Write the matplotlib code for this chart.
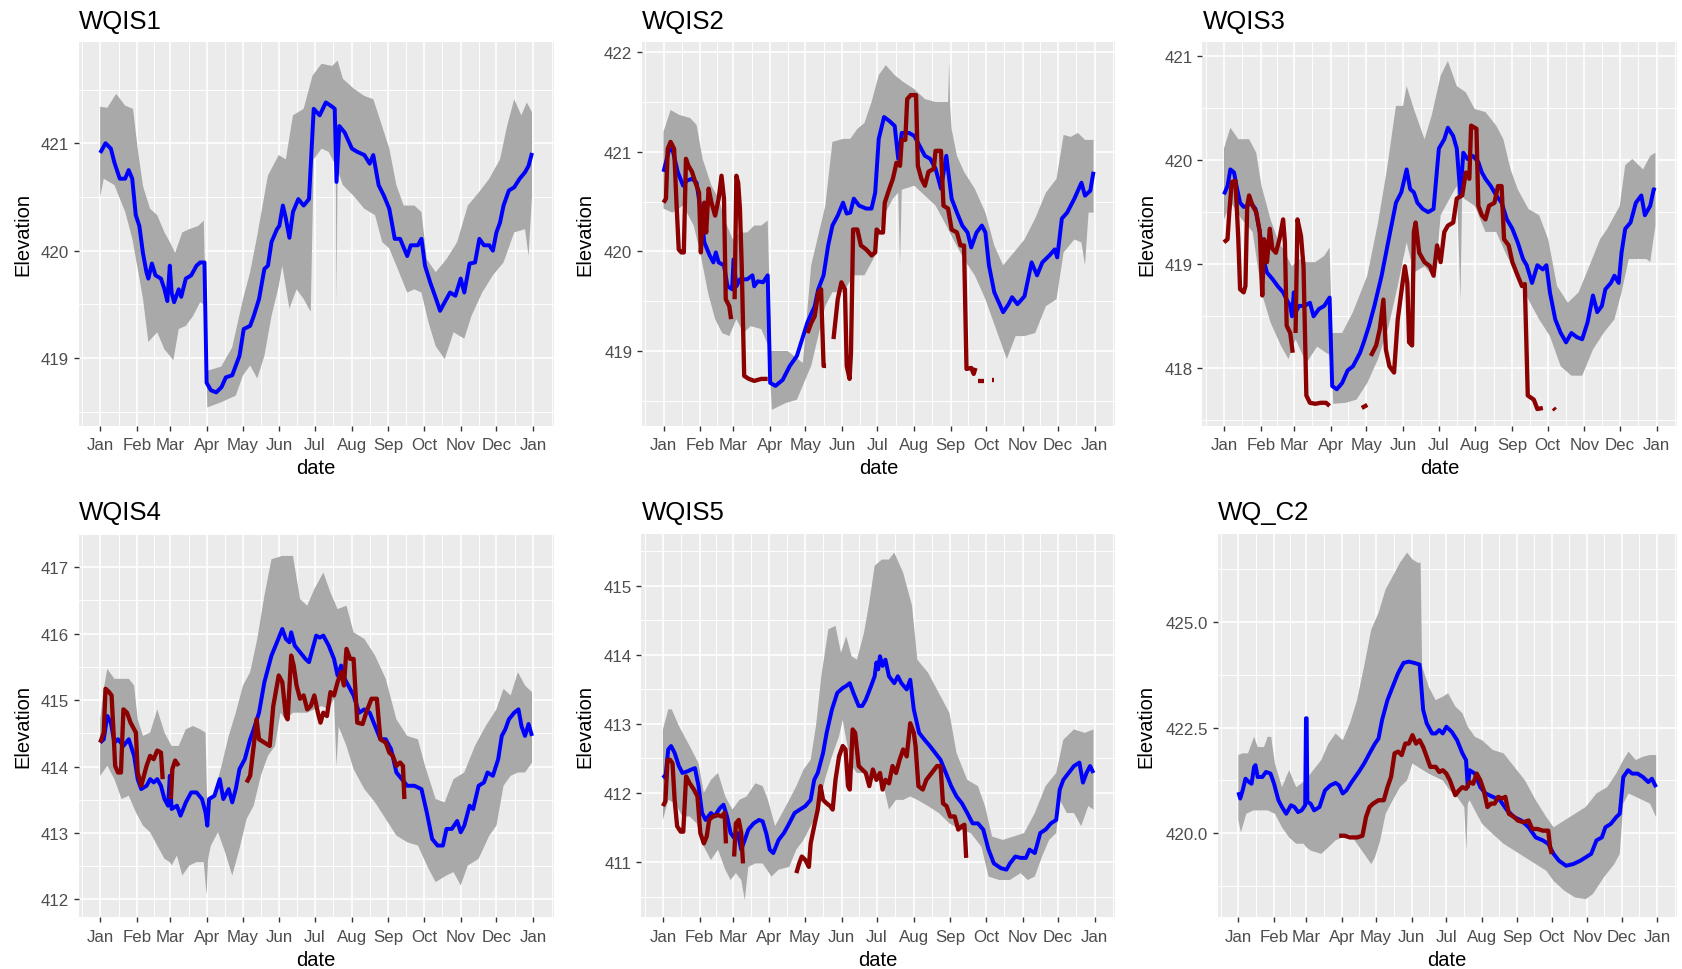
import numpy as np
import matplotlib
matplotlib.use("Agg")
import matplotlib.pyplot as plt

plt.rcParams['font.family'] = ['Liberation Sans', 'DejaVu Sans']

# ---------------- axis data ----------------
MONTH_STARTS = [0, 31, 59, 90, 120, 151, 181, 212, 243, 273, 304, 334, 365]
MONTH_LABELS = ["Jan", "Feb", "Mar", "Apr", "May", "Jun", "Jul", "Aug",
                "Sep", "Oct", "Nov", "Dec", "Jan"]
TITLES = ["WQIS1", "WQIS2", "WQIS3", "WQIS4", "WQIS5", "WQ_C2"]

# ---------------- WQIS1 ----------------
wqis1_mid = [(0,420.91),(4.5,421.0),(9,420.95),(12,420.82),(16.5,420.67),(21,420.67),(24,420.75),(27,420.67),
 (30,420.33),(33,420.23),(36,419.98),(39,419.8),(40.6,419.74),(43.6,419.88),(46.6,419.77),(51.2,419.74),
 (54.2,419.64),(56.6,419.53),(58.7,419.86),(60.2,419.61),(62.3,419.52),(66.2,419.64),(68.3,419.57),
 (72.2,419.74),(76.7,419.77),(81.2,419.86),(84.3,419.89),(87.9,419.89),(89.7,418.77),(93.3,418.70),
 (97.8,418.68),(102.3,418.73),(105.9,418.82),(111.3,418.84),(117.4,419.02),(121,419.27),(126.4,419.30),
 (129.4,419.39),(133.9,419.55),(138.4,419.83),(141.4,419.86),(144.4,420.08),(149,420.20),(151,420.23),
 (154,420.42),(156.5,420.30),(159.5,420.12),(162.5,420.36),(167,420.48),(171.5,420.42),(176,420.48),
 (180,421.32),(185,421.26),(190.2,421.38),(195.6,421.34),(197.7,421.32),(199.2,420.64),(201.6,421.16),
 (206.1,421.10),(212.2,420.95),(216.7,420.92),(222.7,420.89),(227.2,420.81),(230.2,420.89),(234.7,420.61),
 (239.2,420.51),(243.7,420.39),(248.3,420.11),(252.8,420.11),(258.8,419.95),(261.8,420.05),(267.8,420.05),
 (270.8,420.11),(273.8,419.86),(278.3,419.70),(282.2,419.58),(286.5,419.44),(290.4,419.52),(294.9,419.61),
 (299.4,419.58),(303.9,419.74),(306.9,419.61),(311.4,419.88),(316,419.89),(319.6,420.11),(323.5,420.05),
 (328,420.05),(331,420.0),(334,420.17),(337,420.26),(340,420.42),(344.5,420.56),(349,420.59),(353.6,420.67),
 (358.1,420.73),(361.1,420.79),(364,420.91)]
wqis1_hi = [(0,421.34),(6,421.33),(13.5,421.46),(21.1,421.35),(27.7,421.32),(31.6,420.95),(36.1,420.6),
 (42.1,420.39),(48.1,420.33),(54.2,420.17),(58.7,420.08),(63.2,419.98),(69.2,420.17),(75.2,420.20),
 (82.7,420.23),(87.3,420.28),(88.8,419.6),(89.7,418.88),(102,418.92),(111.3,419.1),(120.4,419.55),
 (126.4,419.80),(132.4,420.14),(141.4,420.70),(150.5,420.89),(156.5,420.85),(162.5,421.26),(171.5,421.32),
 (179,421.63),(186.6,421.74),(195.6,421.72),(200.1,421.77),(204.6,421.60),(213.6,421.51),(222.7,421.44),
 (230.2,421.41),(234.7,421.26),(243.7,420.95),(249.7,420.61),(255.8,420.42),(264.8,420.42),(270.8,420.36),
 (275.3,419.92),(282.8,419.80),(291.9,419.92),(300.9,420.08),(309.9,420.42),(319,420.54),(328,420.67),
 (337,420.85),(343,421.16),(349,421.41),(355,421.26),(359.6,421.38),(364,421.29)]
wqis1_lo = [(0,420.50),(3,420.67),(12,420.61),(21.1,420.36),(27.1,420.11),(33.1,419.74),(36.1,419.55),
 (40.6,419.15),(48.1,419.24),(54.2,419.08),(61.7,418.98),(66.2,419.27),(72.2,419.30),(78.2,419.39),
 (84.3,419.52),(88.8,419.49),(90.3,418.54),(102.3,418.59),(114.3,418.65),(120.4,418.84),(126.4,418.93),
 (132.4,418.81),(138.4,419.02),(144.4,419.39),(150.5,419.67),(153.5,419.86),(159.5,419.46),(165.5,419.64),
 (171.5,419.55),(177.5,419.43),(180,420.85),(186.6,420.95),(192.6,420.92),(198.6,420.79),(199.2,419.49),
 (200.1,420.75),(204.6,420.61),(213.6,420.51),(222.7,420.39),(231.7,420.33),(237.7,420.08),(243.7,420.02),
 (249.7,419.86),(258.8,419.61),(264.8,419.64),(270.8,419.61),(276.8,419.33),(282.8,419.11),(290.4,418.99),
 (297.9,419.24),(306.9,419.18),(312.9,419.39),(322,419.61),(331,419.77),(340,419.89),(349,420.17),
 (358.1,420.20),(361.1,419.95),(364,420.51)]
wqis1_obs = []

# ---------------- WQIS2 ----------------
wqis2_mid = [(0,420.80),(4.5,421.01),(7.5,421.03),(12,420.80),(16.6,420.66),(19.6,420.71),(24.1,420.73),
 (28,420.69),(31.6,420.39),(34.6,420.09),(39.1,419.96),(42.2,419.89),(44.3,419.99),(46.7,419.89),
 (51.2,419.86),(54.2,419.65),(58.1,419.62),(59.3,419.92),(61.7,419.65),(64.7,419.72),(70.8,419.72),
 (75.3,419.76),(76.8,419.65),(79.8,419.70),(84.3,419.69),(88.2,419.76),(90.3,418.68),(94.8,418.65),
 (100.9,418.71),(106.9,418.85),(112.9,418.95),(117.4,419.12),(121.9,419.29),(128,419.45),(131,419.62),
 (135.5,419.76),(139.4,420.06),(143,420.26),(147.5,420.36),(152,420.49),(155.1,420.38),(158.1,420.39),
 (161.1,420.53),(165.6,420.46),(171.6,420.43),(176.1,420.43),(179.2,420.59),(182.2,421.13),(186.7,421.35),
 (191.2,421.31),(195.7,421.26),(198.7,420.93),(201.7,421.19),(207.8,421.19),(212.3,421.16),(216.8,421.06),
 (221.3,420.96),(225.8,420.93),(230.3,420.83),(234.9,420.63),(239.4,420.96),(243.9,420.53),(248.4,420.39),
 (252.9,420.26),(257.4,420.19),(260.5,420.04),(265,420.19),(269.5,420.26),(272.5,420.19),(275.5,419.86),
 (280,419.59),(287.5,419.39),(292.1,419.47),(295.1,419.54),(299.6,419.47),(305.6,419.55),(311.6,419.89),
 (316.2,419.76),(320.7,419.89),(326.7,419.96),(331.2,420.02),(333.3,419.94),(337.2,420.33),(341.7,420.39),
 (347.8,420.53),(353.8,420.69),(356.8,420.56),(361.3,420.61),(364,420.80)]
wqis2_hi = [(0,421.20),(6,421.42),(13.5,421.37),(22.6,421.34),(28,421.27),(33.1,420.93),(40.6,420.66),
 (46.7,420.53),(52.7,420.29),(58.7,420.12),(64.7,420.19),(70.8,420.19),(76.8,420.26),(82.8,420.26),
 (88.2,420.31),(91.2,419.0),(105,419.0),(118,418.88),(121,419.3),(125,419.86),(131,420.16),(137,420.46),
 (143,421.10),(152,421.13),(158.1,421.13),(164.1,421.23),(170.1,421.29),(176.1,421.50),(182.2,421.77),
 (188.2,421.87),(195.7,421.77),(203.2,421.70),(212.3,421.63),(221.3,421.53),(230.3,421.50),(240.9,421.50),
 (241.8,421.90),(242.7,421.45),(243.9,421.23),(248.4,420.96),(254.4,420.80),(263.5,420.63),(272.5,420.39),
 (280,420.06),(287.5,419.86),(296.6,419.99),(305.6,420.12),(314.6,420.33),(323.7,420.59),(332.7,420.73),
 (338.7,421.17),(344.8,421.15),(350.8,421.19),(356.8,421.12),(364,421.12)]
wqis2_lo = [(0,420.43),(7.5,420.39),(16.6,420.46),(25.6,420.26),(31.6,419.96),(37.6,419.59),(43.7,419.32),
 (49.7,419.18),(55.7,419.15),(61.7,419.32),(67.7,419.18),(73.8,419.25),(82.8,419.22),(88.8,419.05),
 (91.8,418.41),(103.9,418.48),(112.9,418.51),(118.9,418.68),(125,418.85),(131,419.15),(137,419.45),
 (143,419.59),(152,419.59),(161.1,419.76),(170.1,419.76),(179.2,419.96),(185.2,420.33),(194.2,420.53),
 (198.7,420.59),(200.2,419.86),(201.7,420.62),(212.3,420.66),(221.3,420.56),(230.3,420.46),(239.4,420.26),
 (245.4,420.12),(254.4,419.92),(263.5,419.76),(272.5,419.52),(281.5,419.22),(290.6,418.92),(298.1,419.15),
 (305.6,419.15),(314.6,419.18),(323.7,419.45),(332.7,419.52),(338.7,419.99),(347.8,420.12),(353.8,420.09),
 (356.8,419.86),(359.8,420.39),(364,420.39)]
wqis2_obs = [
 [(0,420.49),(2.1,420.53),(3.6,421.03),(6,421.10),(9,421.03),(11.1,420.46),(12.9,420.02),(15.1,419.99),
  (17.2,419.99),(19,420.93),(21.1,420.86),(24.1,420.80),(27.1,420.69),(30.1,420.59),(31.6,419.99),
  (33.1,420.33),(34.6,420.49),(36.1,420.19),(38.2,420.63),(40.6,420.49),(43.7,420.36),(46.7,420.53),
  (49.1,420.76),(51.2,420.53),(52.7,419.52),(55.7,419.45),(57.2,419.32)],
 [(60.2,419.52),(61.7,420.76),(63.2,420.69),(64.7,420.43),(66.2,419.86),(68.3,418.75),(72.3,418.72),
  (76.8,418.70),(82.8,418.72),(88.2,418.72)],
 [(121.9,419.18),(125,419.28),(128,419.35),(131,419.59),(133.4,419.62),(135.5,418.85),(137.6,418.85)],
 [(143.9,419.12),(147.5,419.52),(150.6,419.69),(153.6,419.62),(155.1,418.85),(157.5,418.72),(158.7,418.98),
  (160.5,420.22),(164.1,420.22),(167.1,420.06),(171.6,420.02),(176.1,419.96),(179.2,419.99),(180.4,420.22),
  (183.1,420.19),(185.8,420.19),(187.3,420.49),(191.2,420.63),(194.2,420.73),(197.2,420.89),(200.2,420.86),
  (201.7,421.12),(204.7,421.12),(206.3,421.53),(209.3,421.57),(213.8,421.57),(215.3,420.86),(218.3,420.73),
  (221.3,420.66),(224.3,420.80),(228.8,420.83),(230.3,421.01),(234.9,421.01),(237,420.46),(240.9,420.43),
  (243.9,420.22),(248.4,420.19),(251.4,420.06),(254.4,420.06),(256.5,418.82),(260.5,418.83),(262.6,418.77),
  (264.1,418.83)],
 [(266.5,418.70),(271,418.70)],
 [(278.5,418.71),(280,418.71)],
]

# ---------------- WQIS3 ----------------
wqis3_mid = [(0,419.67),(3,419.75),(5.4,419.91),(8.5,419.88),(10.6,419.75),(13.6,419.59),(16.6,419.55),
 (19.6,419.56),(22.7,419.59),(26.6,419.53),(30.2,419.31),(33.2,419.05),(36.3,418.92),(40.8,418.86),
 (45.3,418.79),(49.9,418.73),(52.9,418.66),(55.9,418.60),(57.4,418.50),(58.9,418.73),(60.4,418.54),
 (63.5,418.60),(68,418.60),(72.5,418.63),(75.6,418.50),(80.1,418.57),(84.6,418.60),(89.1,418.68),
 (91.3,417.83),(95.2,417.80),(99.7,417.86),(104.3,417.98),(108.8,418.02),(114.8,418.15),(117.9,418.25),
 (122.4,418.41),(126.9,418.60),(133,418.89),(139,419.24),(145.1,419.59),(149.6,419.69),(154.1,419.91),
 (157.1,419.72),(160.2,419.69),(163.2,419.59),(167.7,419.53),(172.3,419.50),(176.8,419.53),(181.3,420.11),
 (185.9,420.20),(188.9,420.31),(193.4,420.23),(196.4,420.11),(199.5,419.66),(201.9,420.07),(205.5,420.01),
 (210,420.04),(214.6,419.98),(217.6,419.88),(220.6,419.82),(225.1,419.75),(229.7,419.66),(234.2,419.59),
 (238.7,419.43),(243.3,419.34),(247.8,419.21),(252.3,419.05),(255.4,418.99),(259.9,418.82),(264.4,418.99),
 (269,418.95),(272,418.99),(275,418.73),(279.5,418.47),(284.1,418.34),(288.6,418.25),(293.1,418.34),
 (297.7,418.30),(302.2,418.28),(306.7,418.44),(311.3,418.70),(314.9,418.54),(318.8,418.60),(321.8,418.76),
 (326.4,418.82),(329.4,418.89),(333,418.82),(335.4,419.11),(338.5,419.34),(343,419.40),(347.5,419.59),
 (352.1,419.66),(355.1,419.47),(359.6,419.56),(362.6,419.72),(364,419.71)]
wqis3_hi = [(0,420.11),(5.4,420.31),(12.1,420.20),(21.2,420.20),(27.2,420.07),(31.7,419.75),(39.3,419.43),
 (45.3,419.24),(51.4,419.11),(57.4,418.98),(63.5,419.05),(69.5,419.02),(77.1,419.02),(84.6,419.08),
 (89.1,419.16),(91.3,418.34),(99.7,418.34),(108.8,418.54),(120.9,418.89),(130,419.40),(137.5,419.91),
 (145.1,420.52),(151.1,420.52),(154.1,420.71),(160.2,420.49),(169.2,420.20),(175.3,420.43),(182.8,420.81),
 (188.9,420.95),(196.4,420.71),(204,420.65),(211.5,420.49),(220.6,420.46),(229.7,420.33),(235.7,420.20),
 (241.8,419.91),(247.8,419.72),(256.9,419.53),(265.9,419.47),(273.5,419.24),(281,418.79),(290.1,418.63),
 (299.2,418.73),(308.2,418.98),(317.3,419.24),(323.4,419.34),(333.9,419.56),(338.5,419.95),(344.5,420.01),
 (353.6,419.91),(359.6,420.04),(364,420.07)]
wqis3_lo = [(0,419.43),(6,419.59),(15.1,419.43),(24.2,419.31),(31.7,418.73),(39.3,418.44),(48.4,418.21),
 (54.4,418.09),(60.4,418.28),(69.5,418.05),(78.6,418.21),(86.1,418.15),(90.7,418.12),(92.2,417.66),
 (102.7,417.67),(111.8,417.70),(120.9,417.86),(130,418.09),(139,418.41),(146.6,418.79),(154.1,419.21),
 (160.2,418.92),(169.2,418.98),(178.3,418.86),(182.8,419.47),(190.4,419.63),(196.4,419.75),(199.5,418.66),
 (201,419.70),(202.5,419.63),(211.5,419.56),(220.6,419.31),(229.7,419.31),(238.7,419.08),(247.8,418.89),
 (256.9,418.66),(265.9,418.47),(275,418.31),(284.1,418.02),(293.1,417.93),(302.2,417.93),(311.3,418.18),
 (320.3,418.34),(329.4,418.47),(335.4,418.73),(341.5,419.05),(350.6,419.05),(356.6,419.05),(359.6,419.02),
 (364,419.37)]
wqis3_obs = [
 [(0,419.21),(3,419.24),(4.5,419.50),(6.6,419.79),(9.7,419.80),(12.1,419.24),(13.6,418.76),(16.6,418.73),
  (18.1,418.79),(19.6,419.56),(21.2,419.66),(24.2,419.56),(27.2,419.50),(30.2,419.31),(32.3,418.70),
  (33.8,419.24),(36.3,419.02),(38.7,419.34),(40.8,419.15),(43.8,419.11),(46.8,419.24),(49.9,419.43),
  (51.4,419.21),(52.9,418.41),(55.9,418.34),(58,418.15)],
 [(60.4,418.34),(62,419.43),(65,419.27),(67.1,418.98),(69.5,417.74),(72.5,417.67),(77.1,417.66),
  (81.6,417.67),(86.1,417.67),(89.1,417.64)],
 [(116.3,417.62),(120.9,417.65)],
 [(123.9,418.12),(128.4,418.22),(131.5,418.38),(134.5,418.66),(136.6,418.18),(139.6,418.02),(143.5,417.96),
  (146.6,418.47),(149.6,418.73),(152.6,418.98),(154.7,418.82),(156.2,418.25),(158.7,418.22),(160.2,419.31),
  (161.7,419.40),(164.7,419.11),(169.2,419.02),(173.8,418.98),(176.8,418.89),(179.8,419.18),(182.8,419.02),
  (185.9,419.31),(188.9,419.37),(193.4,419.40),(196.4,419.63),(201,419.66),(204,419.88),(207,419.82),
  (208.5,420.33),(213,420.30),(214.6,419.56),(217.6,419.47),(220.6,419.43),(223.6,419.56),(228.2,419.59),
  (231.2,419.75),(234.2,419.75),(236.3,419.24),(240.2,419.18),(243.3,419.02),(247.8,418.89),(251.4,418.79),
  (253.8,418.81),(256.3,417.74),(261.4,417.70),(264.4,417.61),(269,417.62)],
 [(278,417.62),(279.5,417.60)],
]

# ---------------- WQIS4 ----------------
wqis4_mid = [(0,414.36),(3,414.41),(6,414.76),(9,414.66),(12,414.36),(15,414.41),(19.6,414.31),(24.1,414.41),
 (28.6,414.16),(31.6,413.81),(34.6,413.66),(39.1,413.71),(42.1,413.81),(45.1,413.76),(48.1,413.81),
 (51.2,413.71),(54.2,413.51),(57.2,413.41),(58.7,413.86),(60.2,413.36),(64.7,413.41),(67.7,413.26),
 (72.2,413.46),(76.7,413.61),(81.2,413.61),(85.8,413.51),(88.8,413.31),(90.3,413.11),(91.8,413.51),
 (96.3,413.56),(100.8,413.81),(103.8,413.51),(108.3,413.66),(111.3,413.46),(114.3,413.66),(117.4,413.96),
 (121.9,414.11),(126.4,414.41),(129.4,414.56),(133.9,414.81),(138.4,415.27),(144.4,415.67),(149,415.87),
 (153.5,416.07),(156.5,415.92),(159.5,415.87),(161,416.02),(164,415.82),(168.5,415.72),(173,415.62),
 (176,415.57),(179,415.77),(182.1,415.97),(185.1,415.94),(188.1,415.97),(192.6,415.82),(197.1,415.62),
 (200.1,415.37),(203.1,415.52),(206.1,415.32),(209.1,415.22),(213.6,415.07),(218.2,414.81),(222.7,414.86),
 (227.2,414.81),(231.7,414.61),(236.2,414.41),(240.7,414.41),(245.2,414.26),(249.7,413.91),(254.3,413.81),
 (258.8,413.71),(264.8,413.71),(270.8,413.66),(275.3,413.31),(279.8,412.91),(284.4,412.81),(288.9,412.81),
 (291.9,413.06),(296.4,413.06),(300.9,413.18),(303.9,413.01),(306.9,413.11),(311.4,413.41),(314.4,413.36),
 (319,413.71),(323.5,413.76),(326.5,413.91),(331,413.86),(335.5,414.11),(338.5,414.46),(341.5,414.56),
 (344.5,414.71),(349,414.81),(352.6,414.86),(355.1,414.61),(358.1,414.46),(361.1,414.64),(364,414.46)]
wqis4_hi = [(0,414.71),(3,415.17),(6,415.47),(12,415.32),(18,415.32),(24.1,415.32),(28.6,415.22),(31.6,414.71),
 (36.1,414.46),(42.1,414.51),(48.1,414.86),(54.2,414.51),(60.2,414.31),(66.2,414.31),(72.2,414.56),
 (78.2,414.61),(84.3,414.56),(88.8,414.51),(90.3,413.36),(96.3,413.61),(102.3,414.01),(108.3,414.46),
 (114.3,414.81),(120.4,415.22),(126.4,415.42),(132.4,415.92),(138.4,416.57),(144.4,417.12),(153.5,417.17),
 (162.5,417.17),(168.5,416.52),(174.5,416.42),(180.5,416.67),(188.1,416.92),(194.1,416.62),(200.1,416.37),
 (207.6,416.42),(213.6,416.02),(222.7,415.92),(231.7,415.67),(240.7,415.32),(249.7,414.71),(258.8,414.46),
 (267.8,414.41),(273.8,414.01),(282.8,413.51),(290.4,413.46),(297.9,413.81),(306.9,413.91),(315.9,414.31),
 (325,414.61),(334,414.86),(340,415.17),(346,415.07),(352.1,415.42),(358.1,415.22),(364,415.12)]
wqis4_lo = [(0,413.86),(6,414.01),(12,413.81),(18,413.51),(24.1,413.56),(30.1,413.31),(36.1,413.11),
 (42.1,413.01),(48.1,412.81),(54.2,412.61),(58.7,412.56),(60.2,412.51),(64.7,412.66),(69.2,412.36),
 (75.2,412.51),(81.2,412.56),(87.3,412.56),(89.7,412.06),(90.9,412.6),(93.3,412.81),(99.3,413.01),
 (105.3,412.71),(111.3,412.36),(117.4,412.76),(123.4,413.21),(129.4,413.41),(135.4,413.86),(141.4,414.16),
 (147.4,414.31),(152,414.81),(156.5,414.71),(162.5,414.81),(168.5,414.81),(174.5,414.81),(180.5,414.86),
 (186.6,414.91),(192.6,414.86),(197.1,415.02),(199.2,414.0),(201,414.6),(203.1,414.51),(207.6,414.31),
 (213.6,413.96),(222.7,413.66),(231.7,413.46),(240.7,413.21),(249.7,412.96),(258.8,412.86),(267.8,412.81),
 (276.8,412.46),(282.8,412.26),(291.9,412.36),(297.9,412.41),(303.9,412.21),(309.9,412.51),(319,412.61),
 (328,412.96),(334,413.11),(340,413.71),(346,413.86),(352.1,413.91),(358.1,413.91),(364,414.06)]
wqis4_obs = [
 [(0,414.36),(3,414.51),(4.5,415.17),(7.5,415.12),(9.6,415.07),(11.4,414.46),(12.6,414.01),(15,413.91),
  (17.5,413.91),(19.6,414.86),(22.6,414.81),(25.6,414.66),(28.6,414.56),(30.1,414.51),(31.6,413.91),
  (34.6,413.71),(39.1,414.01),(42.1,414.16),(45.1,414.11),(48.1,414.24),(51.2,414.21),(52.7,413.81)],
 [(59.6,413.51),(60.8,413.96),(63.2,414.09),(66.2,414.01)],
 [(123.4,413.76),(126.4,413.86),(129.4,414.31),(131.8,414.71),(133.9,414.41),(138.4,414.36),(142.9,414.31),
  (145.9,414.91),(150.5,415.37),(153.5,415.27),(156.5,414.76),(158,414.71),(161,415.67),(163.1,415.52),
  (165.5,415.22),(168.5,415.02),(171.5,415.07),(174.5,414.86),(177.5,414.91),(180.5,415.07),(183.5,414.81),
  (185.7,414.66),(188.1,414.81),(191.1,414.76),(194.1,415.12),(197.1,415.07),(200.1,415.27),(203.1,415.42),
  (205.5,415.22),(207.6,415.77),(210.7,415.62),(213.6,415.62),(216.7,414.66),(221.2,414.64),(224.2,414.81),
  (228.7,415.02),(233.2,415.02),(236.2,414.41),(240.7,414.36),(243.7,414.21),(246.7,414.16),(249.7,414.01),
  (252.8,414.06),(255.2,414.01),(256.4,413.51)],
]

# ---------------- WQIS5 ----------------
wqis5_mid = [(0,412.26),(2.1,412.22),(4.5,412.63),(6.9,412.68),(9.9,412.58),(13.5,412.39),(16.5,412.29),
 (20.2,412.31),(24.1,412.34),(27.1,412.36),(30.1,412.10),(33.1,411.71),(36.1,411.61),(40.6,411.71),
 (43.6,411.66),(48.1,411.78),(51.2,411.83),(54.2,411.66),(57.2,411.42),(60.2,411.35),(63.2,411.42),
 (66.2,411.18),(69.2,411.32),(72.2,411.47),(76.7,411.56),(81.2,411.61),(84.3,411.59),(87.3,411.42),
 (90.3,411.18),(93.3,411.13),(97.8,411.32),(102.3,411.42),(106.8,411.56),(111.3,411.71),(115.8,411.76),
 (120.4,411.81),(124.9,411.90),(127.9,412.19),(130.9,412.29),(135.4,412.58),(138.4,412.87),(142.9,413.21),
 (147.4,413.45),(152,413.52),(155,413.55),(158,413.59),(161,413.45),(165.5,413.26),(168.5,413.26),
 (171.5,413.35),(176,413.55),(179,413.69),(180.5,413.89),(182,413.79),(183.5,413.98),(185.7,413.84),
 (188.1,413.93),(191.1,413.69),(195.6,413.59),(198.6,413.69),(201.6,413.59),(206.1,413.50),(209.1,413.64),
 (212.1,413.21),(216.6,412.87),(221.2,412.77),(225.7,412.68),(230.2,412.58),(234.7,412.48),(239.2,412.29),
 (243.7,412.10),(248.2,411.95),(252.8,411.85),(257.3,411.71),(261.8,411.56),(266.3,411.56),(270.8,411.47),
 (275.3,411.18),(279.8,410.98),(285.9,410.91),(290.4,410.89),(293.4,410.98),(297.9,411.08),(302.4,411.06),
 (306.9,411.06),(309.9,411.18),(314.4,411.13),(319,411.42),(323.5,411.47),(328,411.56),(332.5,411.61),
 (335.5,412.05),(338.5,412.19),(343,412.29),(347.5,412.39),(352.1,412.44),(355.1,412.15),(358.1,412.29),
 (361.1,412.39),(364,412.29)]
wqis5_hi = [(0,412.92),(4.5,413.21),(7.5,413.21),(13.5,412.97),(22.6,412.68),(30.1,412.43),(34.6,412.00),
 (40.6,412.19),(46.6,412.29),(52.7,411.95),(58.7,411.76),(64.7,411.90),(70.7,411.95),(78.2,412.14),
 (84.3,412.10),(88.8,411.90),(94.8,411.52),(100.8,411.71),(106.8,411.90),(112.8,412.10),(118.9,412.34),
 (124.9,412.48),(129.4,412.97),(133.9,413.69),(139.9,414.37),(145.9,414.42),(150.5,414.03),(155,414.27),
 (159.5,413.98),(164,413.93),(170,414.32),(174.5,414.76),(179,415.29),(185.1,415.38),(191.1,415.38),
 (195.6,415.48),(203.1,415.19),(210.6,414.71),(215.1,413.93),(224.2,413.74),(233.2,413.45),(242.2,413.16),
 (248.2,412.58),(257.3,412.19),(266.3,412.10),(272.3,411.81),(278.3,411.37),(287.4,411.32),(296.4,411.37),
 (305.4,411.42),(314.4,411.71),(323.5,412.10),(332.5,412.29),(338.5,412.77),(347.5,412.92),(356.6,412.87),
 (364,412.92)]
wqis5_lo = [(0,411.61),(4.5,411.90),(10.5,411.85),(16.5,411.66),(22.6,411.66),(28.6,411.56),(34.6,411.22),
 (40.6,411.03),(46.6,411.18),(52.7,410.89),(57.2,410.74),(61.7,410.84),(66.2,410.74),(69.2,410.45),
 (72.2,410.93),(78.2,410.98),(84.3,410.98),(91.8,410.79),(97.8,410.89),(106.8,410.93),(112.8,411.18),
 (118.9,411.32),(124.9,411.52),(130.9,411.71),(136.9,412.19),(142.9,412.53),(148.9,412.82),(152,413.06),
 (155,412.77),(159.5,412.39),(164,412.29),(170,412.29),(176,412.19),(182,412.29),(186.6,412.10),
 (191.1,411.76),(197.1,411.90),(203.1,411.90),(209.1,411.95),(215.1,411.90),(224.2,411.81),(233.2,411.71),
 (242.2,411.56),(251.3,411.47),(260.3,411.42),(269.3,411.22),(275.3,410.79),(284.4,410.74),(293.4,410.74),
 (302.4,410.84),(308.4,410.74),(314.4,410.79),(320.5,411.08),(326.5,411.32),(332.5,411.42),(335.5,411.90),
 (341.5,411.71),(347.5,411.71),(353.6,411.52),(359.6,411.81),(364,411.76)]
wqis5_obs = [
 [(0,411.81),(2.1,411.88),(3.9,412.48),(6,412.48),(8.1,412.43),(9.9,411.90),(12,411.52),(15,411.44),
  (17.2,411.44),(19.6,412.24),(22.6,412.14),(26.2,412.05),(29.2,411.95),(31.6,411.42),(34.6,411.27),
  (37,411.37),(39.1,411.61),(42.1,411.66),(46.6,411.68),(49.6,411.66),(52.1,411.71),(53.3,411.27)],
 [(60.2,411.08),(61.7,411.56),(64.1,411.61),(66.2,411.42),(67.7,410.98)],
 [(112.8,410.84),(115.2,410.98),(117.4,411.08),(120.4,411.03),(123.4,410.93),(124.9,411.27),(127.9,411.52),
  (130.9,411.76),(133.3,412.10),(135.4,411.90),(138.4,411.85),(141.4,411.81),(143.5,411.76),(145.9,412.19),
  (148.9,412.53),(152,412.68),(154.4,412.63),(156.5,412.10),(158,412.05),(160.4,412.92),(162.5,412.87),
  (165.5,412.39),(168.5,412.34),(171.5,412.29),(174.5,412.10),(177.5,412.34),(180.5,412.19),(183.5,412.29),
  (185.7,412.05),(188.1,412.19),(191.1,412.14),(194.1,412.39),(197.1,412.29),(200.1,412.48),(203.1,412.63),
  (206.1,412.53),(209.1,413.01),(212.1,412.87),(213.6,412.68),(216,412.10),(219.7,412.05),(222.7,412.19),
  (227.2,412.29),(231.7,412.39),(234.7,412.39),(236.8,411.85),(239.8,411.81),(242.8,411.66),(246.7,411.66),
  (249.7,411.47),(252.8,411.52),(254.9,411.54),(256.4,411.06)],
]

# ---------------- WQ_C2 ----------------
wqc2_mid = [(0,420.97),(1.6,420.82),(3.7,421.01),(6.2,421.29),(9.3,421.21),(11.5,421.17),(13.7,421.57),
 (14.9,421.61),(16.8,421.33),(20.9,421.33),(24,421.45),(28,421.41),(31.1,421.17),(34.9,420.78),(38,420.62),
 (41.7,420.46),(45.8,420.66),(48.9,420.62),(52,420.50),(55.1,420.54),(58.2,420.66),(58.9,422.72),
 (59.5,422.72),(60.1,420.74),(62.9,420.70),(66,420.54),(70.7,420.62),(75.4,421.01),(80,421.13),(84.7,421.19),
 (87.8,421.13),(90.9,420.94),(94,421.01),(98.7,421.21),(104.9,421.45),(109.6,421.65),(114.3,421.89),
 (119,422.12),(122.1,422.24),(125.2,422.68),(129.9,423.15),(134.5,423.47),(139.2,423.79),(143.9,424.03),
 (148.5,424.06),(153.2,424.03),(157.9,423.99),(161,422.92),(164.1,422.60),(168.8,422.36),(171.9,422.36),
 (175,422.44),(178.1,422.36),(181.2,422.52),(185.9,422.40),(190.6,422.20),(195.2,421.89),(198.4,421.73),
 (199.9,421.09),(201.5,421.49),(206.1,421.41),(210.8,421.09),(215.5,420.94),(221.7,420.86),(228,420.78),
 (234.2,420.54),(240.4,420.38),(246.6,420.30),(252.9,420.14),(259.1,419.90),(265.3,419.83),(270,419.75),
 (274.7,419.51),(279.3,419.35),(285.5,419.23),(291.8,419.27),(298,419.35),(302.7,419.43),(307.4,419.51),
 (312,419.83),(316.7,419.90),(319.8,420.14),(324.5,420.22),(329.2,420.38),(332.3,420.46),(335.4,421.33),
 (339.5,421.49),(343.2,421.41),(347.8,421.41),(352.5,421.33),(357.2,421.21),(360.3,421.29),(364,421.09)]
wqc2_hi = [(0,421.85),(3.7,421.89),(8.4,421.89),(13.7,422.28),(16.8,422.04),(22.4,422.04),(25.5,422.28),
 (28.6,422.28),(31.8,421.65),(38,421.09),(44.2,421.49),(50.4,421.09),(56.7,421.21),(62.9,421.41),
 (72.2,421.73),(78.5,422.12),(84.7,422.36),(90.9,422.20),(97.2,422.60),(103.4,423.15),(109.6,423.95),
 (115.8,424.82),(122.1,425.21),(128.3,425.77),(134.5,426.08),(140.8,426.40),(147,426.64),(151.7,426.48),
 (156.3,426.40),(158.8,426.40),(160.1,423.95),(165.7,423.47),(171.9,423.15),(178.1,423.23),(182.8,423.31),
 (189,423.00),(195.2,422.84),(199.9,422.52),(206.1,422.28),(212.4,422.20),(221.7,421.97),(231.1,421.89),
 (240.4,421.57),(249.7,421.25),(259.1,420.78),(268.4,420.38),(274.7,420.14),(284,420.30),(293.3,420.46),
 (302.7,420.62),(312,420.94),(321.4,421.09),(329.2,421.41),(335.4,421.73),(340,421.93),(346.3,421.73),
 (352.5,421.81),(358.7,421.85),(364,421.85)]
wqc2_lo = [(0,420.30),(2.2,420.02),(6.9,420.46),(13.1,420.54),(19.3,420.54),(25.5,420.54),(31.8,420.46),
 (38,420.14),(44.2,419.90),(50.4,419.75),(56.7,419.75),(59.2,419.67),(62.9,419.59),(67.6,419.55),
 (72.2,419.51),(78.5,419.67),(84.7,419.83),(90.9,419.90),(97.2,419.98),(103.4,419.75),(109.6,419.51),
 (115.8,419.27),(119,419.43),(123.6,419.83),(128.3,420.46),(134.5,420.78),(140.8,421.09),(147,421.25),
 (151.7,421.65),(156.3,421.57),(161,421.49),(165.7,421.41),(171.9,421.33),(178.1,421.25),(184.3,421.01),
 (190.6,420.86),(196.8,420.62),(198.7,419.59),(199.9,420.70),(201.5,420.78),(206.1,420.54),(212.4,420.22),
 (221.7,419.98),(231.1,419.75),(240.4,419.59),(249.7,419.43),(259.1,419.27),(268.4,419.11),(274.7,418.87),
 (284,418.64),(293.3,418.48),(302.7,418.44),(308.9,418.56),(318.3,418.95),(327.6,419.27),(332.3,419.51),
 (335.4,420.70),(340,420.94),(346.3,420.86),(352.5,420.78),(358.7,420.70),(364,420.38)]
wqc2_obs = [
 [(87.8,419.94),(92.5,419.94),(97.2,419.90),(103.4,419.90),(108.1,419.94),(111.2,420.38),(114.3,420.62),
  (117.4,420.70),(122.1,420.78),(126.7,420.78),(129.9,421.09),(133,421.33),(136.1,421.89),(139.2,421.93),
  (142.3,421.85),(145.4,422.12),(148.5,422.12),(151.7,422.32),(154.8,422.12),(157.9,422.20),(161,422.04),
  (164.1,421.81),(167.2,421.57),(171.9,421.57),(175,421.45),(178.1,421.49),(181.2,421.41),(184.3,421.25),
  (189,420.90),(192.1,421.01),(195.2,421.09),(198.4,421.05),(201.5,421.21),(204.6,421.17),(207.7,421.41),
  (210.8,421.25),(213.9,421.01),(217,420.62),(220.2,420.70),(223.3,420.70),(226.4,420.86),(229.5,420.82),
  (232.6,420.86),(235.7,420.46),(240.4,420.38),(243.5,420.30),(248.2,420.26),(252.9,420.30),(256,420.10),
  (260.6,420.10),(265.3,420.06),(270,420.06),(271.6,419.67),(273.1,419.51)],
]

# y-axis settings per panel
YLIMS = [(418.37, 421.94), (418.25, 422.10), (417.45, 421.13),
         (411.73, 417.50), (410.20, 415.75), (418.01, 427.08)]
YTICKS = [[419, 420, 421], [419, 420, 421, 422], [418, 419, 420, 421],
          [412, 413, 414, 415, 416, 417], [411, 412, 413, 414, 415], [420.0, 422.5, 425.0]]
YFMT = ["{:.0f}"] * 5 + ["{:.1f}"]

SERIES = [(wqis1_mid, wqis1_hi, wqis1_lo, wqis1_obs),
          (wqis2_mid, wqis2_hi, wqis2_lo, wqis2_obs),
          (wqis3_mid, wqis3_hi, wqis3_lo, wqis3_obs),
          (wqis4_mid, wqis4_hi, wqis4_lo, wqis4_obs),
          (wqis5_mid, wqis5_hi, wqis5_lo, wqis5_obs),
          (wqc2_mid, wqc2_hi, wqc2_lo, wqc2_obs)]

# ---------------- layout (pixels) ----------------
W, H = 1682, 970
RECTS_PX = [(78.6, 43.3, 553.6, 426.7), (642.0, 43.3, 1115.0, 426.7), (1202.4, 43.3, 1677.0, 426.7),
            (78.6, 535.0, 553.6, 918.3), (641.4, 535.0, 1115.0, 918.3), (1217.5, 535.0, 1677.0, 918.3)]
YLABEL_X_PX = [22.5, 585.0, 1146.5, 22.9, 585.0, 1146.2]
TITLE_Y_PX = [21.9, 21.9, 21.9, 513.2, 513.2, 513.2]
XLABEL_Y_PX = [468.7, 468.7, 468.7, 960.3, 960.3, 960.3]

BG = "#EBEBEB"
RIBBON = "#A9A9A9"
BLUE = "#0000FF"
RED = "#8B0000"

fig = plt.figure(figsize=(W / 100, H / 100), dpi=100)

def xy(pairs):
    a = np.asarray(pairs, dtype=float)
    return a[:, 0], a[:, 1]

def midpoints(ticks):
    t = np.asarray(ticks, dtype=float)
    step0 = t[1] - t[0]
    step1 = t[-1] - t[-2]
    ext = np.concatenate([[t[0] - step0], t, [t[-1] + step1]])
    return (ext[:-1] + ext[1:]) / 2

for i in range(6):
    l, t, r, b = RECTS_PX[i]
    ax = fig.add_axes([l / W, 1 - b / H, (r - l) / W, (b - t) / H])
    ax.set_facecolor(BG)
    for s in ax.spines.values():
        s.set_visible(False)

    mid, hi, lo, obs = SERIES[i]
    hd, hv = xy(hi)
    ld, lv = xy(lo)
    ax.fill(np.concatenate([hd, ld[::-1]]), np.concatenate([hv, lv[::-1]]),
            color=RIBBON, lw=0, zorder=2)
    md, mv = xy(mid)
    ax.plot(md, mv, color=BLUE, lw=2.85, zorder=3, solid_joinstyle='round', solid_capstyle='butt')
    for seg in obs:
        sd, sv = xy(seg)
        ax.plot(sd, sv, color=RED, lw=3.1, zorder=4, solid_joinstyle='round', solid_capstyle='butt')

    ax.set_xticks(MONTH_STARTS)
    ax.set_xticklabels(MONTH_LABELS)
    ax.set_xticks(midpoints(MONTH_STARTS), minor=True)
    ax.set_yticks(YTICKS[i])
    ax.set_yticklabels([YFMT[i].format(v) for v in YTICKS[i]])
    ax.set_yticks(midpoints(YTICKS[i]), minor=True)
    ax.set_xlim(-18.2, 382.2)
    ax.set_ylim(*YLIMS[i])

    ax.set_axisbelow(True)
    ax.grid(which='major', color='white', lw=1.2, zorder=0)
    ax.grid(which='minor', color='white', lw=0.65, zorder=0)
    ax.tick_params(which='minor', length=0)
    ax.tick_params(which='major', length=3.8, width=1.0, color='#333333',
                   labelcolor='#4D4D4D', labelsize=12.2)
    ax.tick_params(axis='x', pad=4.5)
    ax.tick_params(axis='y', pad=3.2)

    ax.set_xlabel("date", fontsize=14.5, color='black')
    ax.xaxis.label.set_va('center')
    ax.xaxis.set_label_coords(0.5, (b - XLABEL_Y_PX[i]) / (b - t))
    ax.set_ylabel("Elevation", fontsize=14.5, color='black')
    ax.yaxis.label.set_va('center')
    ax.yaxis.label.set_ha('center')
    ax.yaxis.set_label_coords((YLABEL_X_PX[i] - l) / (r - l), 0.5)

    ax.text(0.0, 1 + (t - TITLE_Y_PX[i]) / (b - t), TITLES[i], transform=ax.transAxes,
            ha='left', va='center', fontsize=18.5, color='black')

fig.savefig("out.png", dpi=100, facecolor='white')
